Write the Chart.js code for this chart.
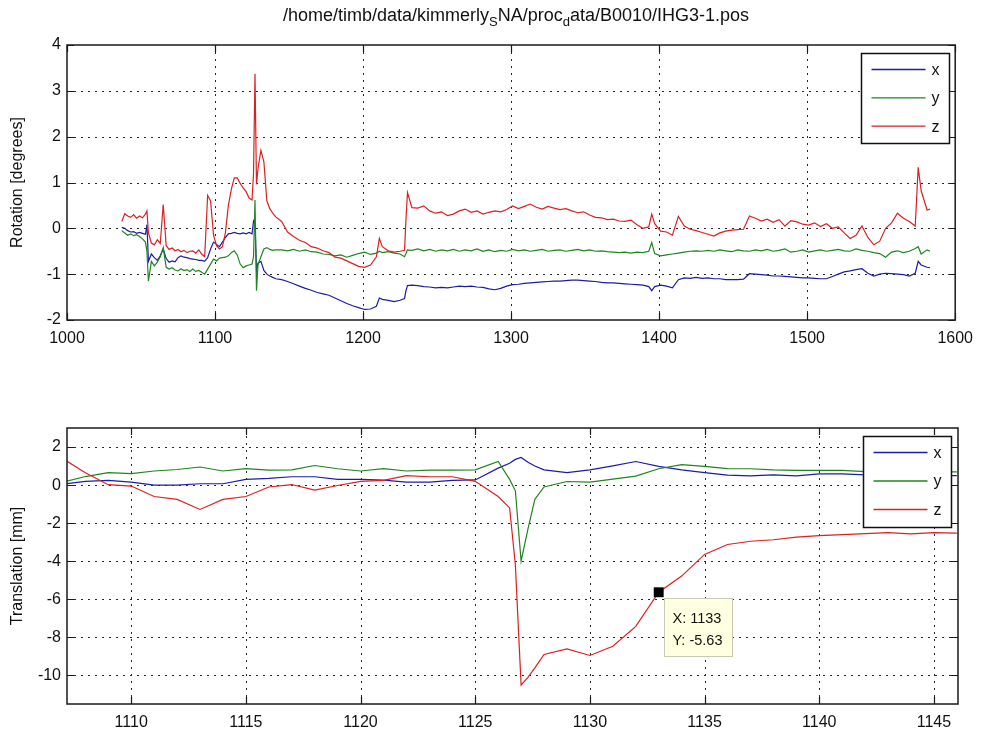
<!DOCTYPE html>
<html><head><meta charset="utf-8">
<script src="https://cdn.jsdelivr.net/npm/chart.js@4.4.1/dist/chart.umd.min.js"></script>
<style>
html,body{margin:0;padding:0;background:#fff;}
#wrap{position:relative;width:982px;height:738px;background:#fff;}
#wrap canvas{position:absolute;left:0;top:0;}
</style></head><body>
<div id="wrap"><canvas id="c1" width="982" height="738"></canvas><canvas id="c2" width="982" height="738"></canvas></div>
<script>
// ---------- title ----------
const titleParts = ['/home/timb/data/kimmerly', 'S', 'NA/proc', 'd', 'ata/B0010/IHG3-1.pos'];
const titleSub = [false, true, false, true, false];
const seriesNames = ['x', 'y', 'z'];
const seriesColors = ['#1c1ca8', '#1f861f', '#dc2020'];

// ---------- top subplot: rotation ----------
const rotFrame = [1037,1039,1041,1043,1045,1047,1049,1051,1053,1054,1055,1057,1059,1061,1063,1065,1067,1069,1071,1073,1075,1077,1079,1081,1083,1085,1087,1089,1091,1093,1095,1097,1099,1101,1103,1105,1107,1109,1111,1113,1115,1117,1119,1121,1123,1125,1126,1127,1128,1129,1131,1133,1135,1137,1139,1141,
1145,1149,1153,1157,1161,1165,1169,1173,1177,1181,1185,1189,1193,1197,1201,1205,1209,1211,1213,1217,1221,1225,1228,1229,1230,
1233,1237,1241,1245,1249,1253,1257,1261,1265,1269,1273,1277,1281,1285,1289,1293,1297,1301,1305,1309,1313,1317,1321,1325,1329,1333,1337,1341,1345,1349,1353,1357,1361,1365,1369,1373,1377,1381,1385,1389,1393,1395,1397,1401,1405,1409,1413,1417,1421,1425,1429,1433,1437,1441,1445,1449,1453,1457,1461,1465,1469,1473,1477,1481,1485,1489,1493,1497,1501,1505,1509,1513,1517,1521,1525,1529,1533,1537,1541,1545,1549,1553,1557,1561,1565,1569,1573,1575,1577,1581,1583];

const rotX = [0.02,0.0,-0.05,-0.08,-0.07,-0.11,-0.09,-0.11,-0.13,0.08,
-0.72,-0.56,-0.64,-0.7,-0.6,-0.45,-0.66,-0.74,-0.71,-0.73,-0.64,-0.6,-0.63,-0.64,-0.66,-0.67,-0.68,-0.7,-0.7,-0.72,-0.64,-0.45,-0.3,-0.35,-0.4,-0.3,-0.2,-0.12,-0.11,-0.09,-0.11,-0.12,-0.1,-0.12,-0.09,-0.12,
0.16,0.1,-0.92,
-0.76,-0.72,-0.92,-1.0,-1.04,-1.07,-1.1,
-1.12,-1.16,-1.21,-1.26,-1.31,-1.35,-1.4,-1.43,-1.46,-1.52,-1.58,-1.64,-1.69,-1.73,-1.77,-1.76,-1.7,-1.52,-1.55,-1.57,-1.6,-1.57,-1.53,-1.36,-1.25,
-1.24,-1.25,-1.27,-1.28,-1.3,-1.29,-1.3,-1.28,-1.26,-1.27,
-1.26,-1.28,-1.29,-1.32,-1.34,-1.31,-1.26,-1.23,-1.22,-1.2,
-1.19,-1.18,-1.17,-1.16,-1.15,-1.15,-1.14,-1.13,-1.13,-1.14,
-1.15,-1.16,-1.18,-1.19,-1.19,-1.2,-1.21,-1.22,-1.23,-1.24,
-1.27,-1.36,-1.27,-1.24,-1.26,-1.3,-1.12,-1.08,-1.09,-1.07,
-1.09,-1.08,-1.1,-1.1,-1.12,-1.12,-1.12,-1.11,-0.99,-1.0,
-1.01,-1.02,-1.04,-1.04,-1.05,-1.06,-1.07,-1.08,-1.08,-1.09,
-1.1,-1.1,-1.05,-1.0,-0.95,-0.93,-0.9,-0.88,-0.98,-1.04,
-1.0,-0.98,-0.99,-1.0,-1.01,-1.04,-0.98,-0.72,-0.8,-0.85,-0.86];

const rotY = [-0.05,-0.1,-0.15,-0.12,-0.16,-0.14,-0.18,-0.23,-0.3,-0.5,
-1.15,-0.72,-0.82,-0.74,-0.62,-0.42,-0.85,-0.89,-0.86,-0.91,-0.93,-0.88,-0.92,-0.9,-0.94,-0.89,-0.94,-0.92,-0.96,-1.0,-0.89,-0.78,-0.67,-0.71,-0.65,-0.64,-0.63,-0.6,-0.53,-0.49,-0.58,-0.78,-0.86,-0.82,-0.8,-0.78,
-0.62,0.62,-1.36,
-0.8,-0.62,-0.45,-0.42,-0.46,-0.48,-0.47,
-0.47,-0.49,-0.46,-0.5,-0.47,-0.51,-0.52,-0.56,-0.57,-0.6,-0.58,-0.63,-0.59,-0.55,-0.52,-0.57,-0.54,-0.5,-0.53,-0.51,-0.54,-0.56,-0.62,-0.55,-0.47,
-0.48,-0.45,-0.49,-0.46,-0.5,-0.47,-0.49,-0.46,-0.5,-0.47,
-0.49,-0.45,-0.5,-0.47,-0.51,-0.48,-0.5,-0.46,-0.49,-0.47,
-0.5,-0.48,-0.46,-0.5,-0.48,-0.47,-0.5,-0.48,-0.46,-0.49,
-0.47,-0.5,-0.49,-0.51,-0.52,-0.53,-0.52,-0.54,-0.52,-0.53,
-0.5,-0.31,-0.55,-0.6,-0.58,-0.56,-0.54,-0.52,-0.5,-0.49,
-0.5,-0.48,-0.5,-0.47,-0.49,-0.51,-0.47,-0.49,-0.5,-0.47,
-0.49,-0.46,-0.5,-0.48,-0.45,-0.52,-0.5,-0.47,-0.52,-0.49,
-0.47,-0.5,-0.48,-0.46,-0.49,-0.5,-0.45,-0.48,-0.5,-0.53,
-0.55,-0.63,-0.52,-0.49,-0.53,-0.5,-0.44,-0.4,-0.56,-0.47,-0.5];

const rotZ = [0.15,0.32,0.27,0.24,0.3,0.22,0.27,0.23,0.31,0.38,
-0.1,-0.32,-0.36,-0.25,-0.33,0.52,-0.38,-0.46,-0.43,-0.49,-0.46,-0.51,-0.48,-0.53,-0.5,-0.49,-0.54,-0.47,-0.56,-0.62,0.72,0.6,-0.15,-0.38,-0.45,-0.4,-0.1,0.5,0.85,1.1,1.1,0.98,0.88,0.8,0.66,0.62,
1.2,3.37,0.96,
1.3,1.7,1.45,0.6,0.43,0.33,0.25,
0.15,-0.08,-0.18,-0.26,-0.31,-0.4,-0.43,-0.49,-0.53,-0.63,-0.65,-0.71,-0.77,-0.83,-0.85,-0.8,-0.62,-0.22,-0.4,-0.49,-0.52,-0.5,-0.48,0.2,0.78,
0.45,0.44,0.49,0.38,0.33,0.36,0.28,0.31,0.38,0.42,
0.35,0.38,0.31,0.35,0.38,0.36,0.41,0.49,0.43,0.48,
0.53,0.46,0.42,0.48,0.44,0.41,0.43,0.38,0.34,0.36,
0.29,0.24,0.23,0.19,0.2,0.16,0.15,0.18,0.08,0.0,
0.03,0.31,0.1,-0.06,-0.08,-0.15,0.26,0.05,-0.02,-0.05,
-0.09,-0.13,-0.17,-0.1,-0.06,-0.04,-0.03,-0.02,0.27,0.22,
0.16,0.2,0.13,0.19,0.05,0.17,0.14,0.09,0.07,0.12,
0.04,0.1,0.0,0.03,-0.1,-0.22,-0.15,0.05,-0.2,-0.36,
-0.28,0.0,0.12,0.33,0.22,0.15,0.05,1.33,0.82,0.4,0.42];

const rotFrameTicks = [1000,1100,1200,1300,1400,1500,1600];
const rotValueTicks = [-2,-1,0,1,2,3,4];

// ---------- bottom subplot: translation ----------
const transFrame = [1107,1108,1109,1110,1111,1112,1113,1114,1115,1116,1117,1118,1119,1120,1121,1122,1123,1124,1125,1126,
1126.5,1126.75,1127,1127.3,1127.6,
1128,1129,1130,1131,1132,1133,1134,1135,1136,1137,1138,1139,1140,1141,1142,1143,1144,1145,1146];
const transX = [0.05,0.2,0.25,0.16,0.0,0.0,0.07,0.07,0.3,0.35,0.44,0.44,0.3,0.3,0.26,0.16,0.16,0.25,0.27,0.89,
1.15,1.35,1.45,1.2,1.0,
0.8,0.66,0.8,1.01,1.24,0.98,0.8,0.66,0.52,0.49,0.54,0.49,0.59,0.59,0.54,0.55,0.52,0.5,0.5];
const transY = [0.15,0.45,0.66,0.6,0.74,0.82,0.95,0.74,0.87,0.79,0.8,1.03,0.86,0.74,0.87,0.74,0.79,0.79,0.8,1.24,
0.3,-0.3,-4.0,-2.3,-0.75,
-0.1,0.19,0.16,0.31,0.47,0.86,1.08,0.98,0.87,0.86,0.8,0.77,0.77,0.77,0.71,0.72,0.7,0.7,0.7];
const transZ = [1.4,0.65,0.02,-0.05,-0.6,-0.75,-1.28,-0.75,-0.6,-0.1,0.03,-0.26,-0.02,0.2,0.25,0.5,0.44,0.44,0.2,-0.6,
-1.2,-4.2,-10.5,-10.1,-9.6,
-8.9,-8.6,-8.95,-8.47,-7.42,-5.63,-4.78,-3.64,-3.12,-2.95,-2.87,-2.73,-2.65,-2.6,-2.55,-2.5,-2.56,-2.5,-2.52];
const transFrameTicks = [1110,1115,1120,1125,1130,1135,1140,1145];
const transValueTicks = [-10,-8,-6,-4,-2,0,2];

// data tip
const tipFrame = 1133;
const tipValue = -5.63;

// ---------- drawing helpers ----------
Chart.defaults.font.family = '"Liberation Sans", Arial, sans-serif';
Chart.defaults.font.size = 16;
Chart.defaults.color = '#111';

const matlabAxes = {
  id: 'matlabAxes',
  beforeDatasetsDraw(chart) {
    const {ctx, chartArea: a} = chart;
    const xs = chart.scales.x, ys = chart.scales.y;
    ctx.save();
    ctx.strokeStyle = '#262626'; ctx.lineWidth = 1; ctx.setLineDash([2, 5]);
    for (const t of xs.ticks) {
      const p = Math.round(xs.getPixelForValue(t.value)) + 0.5;
      if (p < a.left + 2 || p > a.right - 2) continue;
      ctx.beginPath(); ctx.moveTo(p, a.bottom); ctx.lineTo(p, a.top); ctx.stroke();
    }
    for (const t of ys.ticks) {
      const p = Math.round(ys.getPixelForValue(t.value)) + 0.5;
      if (p < a.top + 2 || p > a.bottom - 2) continue;
      ctx.beginPath(); ctx.moveTo(a.left, p); ctx.lineTo(a.right, p); ctx.stroke();
    }
    ctx.restore();
  },
  afterDatasetsDraw(chart, args, o) {
    const {ctx, chartArea: a} = chart;
    const xs = chart.scales.x, ys = chart.scales.y;
    ctx.save();
    ctx.setLineDash([]);
    ctx.strokeStyle = '#1a1a1a';
    ctx.lineWidth = 1.5;
    ctx.strokeRect(a.left, a.top, a.right - a.left, a.bottom - a.top);
    ctx.lineWidth = 1.2;
    const tl = 7;
    for (const t of xs.ticks) {
      const p = Math.round(xs.getPixelForValue(t.value)) + 0.5;
      ctx.beginPath();
      ctx.moveTo(p, a.bottom); ctx.lineTo(p, a.bottom - tl);
      ctx.moveTo(p, a.top); ctx.lineTo(p, a.top + tl);
      ctx.stroke();
    }
    for (const t of ys.ticks) {
      const p = Math.round(ys.getPixelForValue(t.value)) + 0.5;
      ctx.beginPath();
      ctx.moveTo(a.left, p); ctx.lineTo(a.left + tl, p);
      ctx.moveTo(a.right, p); ctx.lineTo(a.right - tl, p);
      ctx.stroke();
    }
    // legend
    const L = o.legend;
    const bx = Math.round(a.right - L.right - L.width) + 0.5, by = Math.round(a.top + L.top) + 0.5;
    ctx.fillStyle = '#fff';
    ctx.fillRect(bx, by, L.width, L.height);
    ctx.lineWidth = 1.5; ctx.strokeStyle = '#111';
    ctx.strokeRect(bx, by, L.width, L.height);
    let row = 0;
    chart.data.datasets.forEach(ds => {
      if (!ds.label) return;
      const yy = by + L.firstRow + row * L.rowGap;
      ctx.strokeStyle = ds.borderColor; ctx.lineWidth = 1.3;
      ctx.beginPath(); ctx.moveTo(bx + 10, yy); ctx.lineTo(bx + 64, yy); ctx.stroke();
      ctx.fillStyle = '#111'; ctx.font = '16px "Liberation Sans", Arial, sans-serif';
      ctx.textAlign = 'left'; ctx.textBaseline = 'middle';
      ctx.fillText(ds.label, bx + 70, yy + 1);
      row++;
    });
    // data tip box
    if (o.tip) {
      const px = xs.getPixelForValue(o.tip.x), py = ys.getPixelForValue(o.tip.y);
      const tx = Math.round(px + 5) + 0.5, ty = Math.round(py + 6) + 0.5;
      ctx.fillStyle = '#ffffe1';
      ctx.fillRect(tx, ty, 68, 58);
      ctx.strokeStyle = '#c9c9b4'; ctx.lineWidth = 1;
      ctx.strokeRect(tx, ty, 68, 58);
      ctx.fillStyle = '#111'; ctx.font = '14.5px "Liberation Sans", Arial, sans-serif';
      ctx.textAlign = 'left'; ctx.textBaseline = 'middle';
      ctx.fillText('X: ' + o.tip.x, tx + 8, ty + 20);
      ctx.fillText('Y: ' + o.tip.y, tx + 8, ty + 42);
    }
    ctx.restore();
  }
};

const figTitle = {
  id: 'figTitle',
  afterDraw(chart, args, o) {
    if (!o.show) return;
    const ctx = chart.ctx;
    ctx.save();
    const big = '18px "Liberation Sans", Arial, sans-serif', small = '13px "Liberation Sans", Arial, sans-serif';
    let w = 0;
    titleParts.forEach((t, i) => { ctx.font = titleSub[i] ? small : big; w += ctx.measureText(t).width; });
    let x = o.cx - w / 2;
    ctx.fillStyle = '#111'; ctx.textBaseline = 'alphabetic'; ctx.textAlign = 'left';
    titleParts.forEach((t, i) => {
      ctx.font = titleSub[i] ? small : big;
      ctx.fillText(t, x, o.baseline + (titleSub[i] ? 5 : 0));
      x += ctx.measureText(t).width;
    });
    ctx.restore();
  }
};

function lineSets(frames, a, b, c) {
  return [a, b, c].map((vals, i) => ({
    label: seriesNames[i],
    data: frames.map((f, k) => ({x: f, y: vals[k]})),
    borderColor: seriesColors[i],
    borderWidth: 1.2,
    pointRadius: 0,
    tension: 0,
    fill: false,
    order: 3 - i
  }));
}

function axisCfg(min, max, ticks, fit, title, pad) {
  return {
    type: 'linear', min, max,
    afterBuildTicks: s => { s.ticks = ticks.map(v => ({value: v})); },
    afterFit: fit,
    grid: {display: false, drawTicks: false},
    border: {display: false},
    ticks: {padding: pad, autoSkip: false, maxRotation: 0, color: '#111', callback: v => String(v)},
    title: title ? {display: true, text: title, color: '#111', font: {size: 16}, padding: {top: 8, bottom: 0}} : {display: false}
  };
}

const common = {
  responsive: false, animation: false, events: [],
  plugins: {legend: {display: false}, tooltip: {enabled: false}, title: {display: false}}
};

new Chart(document.getElementById('c1'), {
  type: 'line',
  data: {datasets: lineSets(rotFrame, rotX, rotY, rotZ)},
  options: Object.assign({}, common, {
    layout: {padding: {top: 45, left: 0, right: 25, bottom: 388}},
    scales: {
      x: axisCfg(1000, 1600, rotFrameTicks, s => { s.height = 30; }, null, 9),
      y: axisCfg(-2, 4, rotValueTicks, s => { s.width = 67; }, 'Rotation [degrees]', 6)
    },
    plugins: Object.assign({}, common.plugins, {
      matlabAxes: {legend: {right: 6, top: 8, width: 88, height: 90, firstRow: 16, rowGap: 28.3}},
      figTitle: {show: true, cx: 516, baseline: 21}
    })
  }),
  plugins: [matlabAxes, figTitle]
});

const transSets = lineSets(transFrame, transX, transY, transZ);
transSets.push({
  data: [{x: tipFrame, y: tipValue}],
  showLine: false, pointStyle: 'rect', pointRadius: 7,
  backgroundColor: '#000', borderColor: '#000', borderWidth: 0, order: 0
});

new Chart(document.getElementById('c2'), {
  type: 'line',
  data: {datasets: transSets},
  options: Object.assign({}, common, {
    layout: {padding: {top: 428, left: 0, right: 24, bottom: 4}},
    scales: {
      x: axisCfg(1107.2, 1146.05, transFrameTicks, s => { s.height = 30; }, null, 9),
      y: axisCfg(-11.5, 3, transValueTicks, s => { s.width = 67; }, 'Translation [mm]', 6)
    },
    plugins: Object.assign({}, common.plugins, {
      matlabAxes: {legend: {right: 7, top: 8, width: 88, height: 91, firstRow: 16, rowGap: 28.5},
                   tip: {x: tipFrame, y: tipValue}},
      figTitle: {show: false}
    })
  }),
  plugins: [matlabAxes, figTitle]
});
</script>
</body></html>
